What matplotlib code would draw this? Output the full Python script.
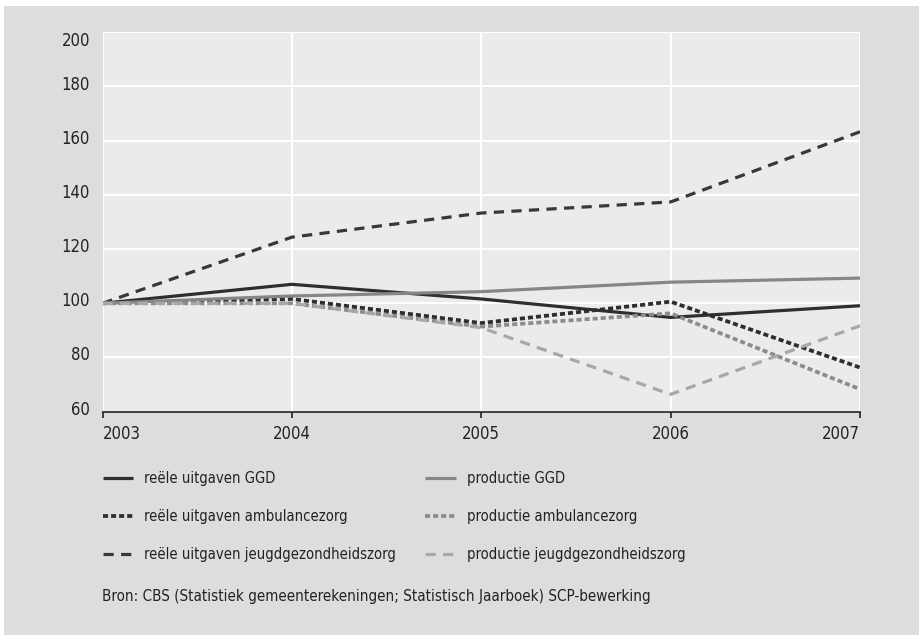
import matplotlib
matplotlib.use("Agg")
import matplotlib.pyplot as plt
from matplotlib.patches import Rectangle
from matplotlib import font_manager
from matplotlib.transforms import ScaledTranslation

# pick a narrow/condensed font if one is installed
fl = font_manager.fontManager.ttflist
names = {f.name for f in fl}
stretch = "normal"
if "Liberation Sans Narrow" in names:
    fam = ["Liberation Sans Narrow", "DejaVu Sans"]
elif any(f.name == "DejaVu Sans" and str(f.stretch) in ("condensed", "semi-condensed") for f in fl):
    fam = ["DejaVu Sans"]
    stretch = "condensed"
else:
    fam = ["Liberation Sans", "DejaVu Sans"]
plt.rcParams["font.family"] = fam
plt.rcParams["font.stretch"] = stretch

years = [2003, 2004, 2005, 2006, 2007]
reele_ggd = [100, 107.0, 101.6, 94.8, 99.1]
productie_ggd = [100, 102.7, 104.3, 107.8, 109.3]
reele_amb = [100, 101.6, 92.7, 100.6, 76.3]
productie_amb = [100, 100.0, 91.4, 96.3, 68.3]
reele_jeugd = [100, 124.4, 133.3, 137.4, 163.3]
productie_jeugd = [100, 100.0, 91.0, 66.4, 91.7]
yticks = [60, 80, 100, 120, 140, 160, 180, 200]
source = "Bron: CBS (Statistiek gemeenterekeningen; Statistisch Jaarboek) SCP-bewerking"

W, H = 919, 635
fig = plt.figure(figsize=(W / 100, H / 100), dpi=100)
fig.patch.set_facecolor("white")
fig.patches.append(Rectangle((4 / W, 0), 1, 1 - 6 / H, transform=fig.transFigure,
                             facecolor="#dcdddf", edgecolor="none", zorder=-10))

ax = fig.add_axes([102.5 / W, 1 - 411.7 / H, (860 - 102.5) / W, (411.7 - 32.3) / H])
ax.set_facecolor("#ebebed")

dark = "#2e2e2e"
lw = 2.3
lw_dot = 2.7
dash = (3.2, 2.3)
dot = (1.35, 0.8)
series = [
    (reele_ggd, "reële uitgaven GGD", dark, "-", None, lw),
    (reele_amb, "reële uitgaven ambulancezorg", dark, "--", dot, lw_dot),
    (reele_jeugd, "reële uitgaven jeugdgezondheidszorg", "#383838", "--", dash, lw),
    (productie_ggd, "productie GGD", "#868686", "-", None, lw),
    (productie_amb, "productie ambulancezorg", "#8c8c8c", "--", dot, lw_dot),
    (productie_jeugd, "productie jeugdgezondheidszorg", "#a8a8a8", "--", dash, lw),
]
handles = []
for vals, lab, col, ls, dsh, w in series:
    kw = dict(color=col, lw=w, linestyle=ls, label=lab, solid_capstyle="butt",
              dash_capstyle="butt")
    if dsh is not None:
        kw["dashes"] = dsh
    ln, = ax.plot(years, vals, **kw, zorder=3)
    handles.append(ln)

ax.set_xlim(2003, 2007)
ax.set_ylim(60, 200)
ax.set_yticks(yticks)
ax.set_xticks(years)
ax.grid(True, color="white", lw=1.5, zorder=0)
ax.set_axisbelow(True)
for s in ["top", "left", "right"]:
    ax.spines[s].set_visible(False)
ax.spines["bottom"].set_color("#222222")
ax.spines["bottom"].set_linewidth(1.2)
fs = 12
ax.tick_params(axis="y", length=0, pad=9, labelsize=fs, colors="#222222")
ax.tick_params(axis="x", length=4.5, width=1.2, direction="out", pad=5,
               labelsize=fs, colors="#222222")
for lab in ax.get_yticklabels():
    lab.set_horizontalalignment("right")
    dy = -7 / 100 if lab.get_text() == "200" else 4 / 100
    lab.set_transform(lab.get_transform() + ScaledTranslation(0, dy, fig.dpi_scale_trans))
xl = ax.get_xticklabels()
xl[0].set_horizontalalignment("left")
xl[-1].set_horizontalalignment("right")

lfs = 10.6
common = dict(loc="upper left", frameon=False, fontsize=lfs, handlelength=2.1,
              handletextpad=0.72, labelspacing=1.55, borderpad=0, borderaxespad=0)
leg1 = fig.legend(handles=handles[:3], bbox_to_anchor=(102.5 / W, 1 - 471.5 / H), **common)
leg2 = fig.legend(handles=handles[3:], bbox_to_anchor=(425 / W, 1 - 471.5 / H), **common)
for lg in (leg1, leg2):
    for t in lg.get_texts():
        t.set_color("#222222")

fig.text(102.5 / W, 1 - 597 / H, source, fontsize=10.9, va="center", ha="left", color="#222222")

fig.savefig("out.png", dpi=100, facecolor=fig.get_facecolor())
